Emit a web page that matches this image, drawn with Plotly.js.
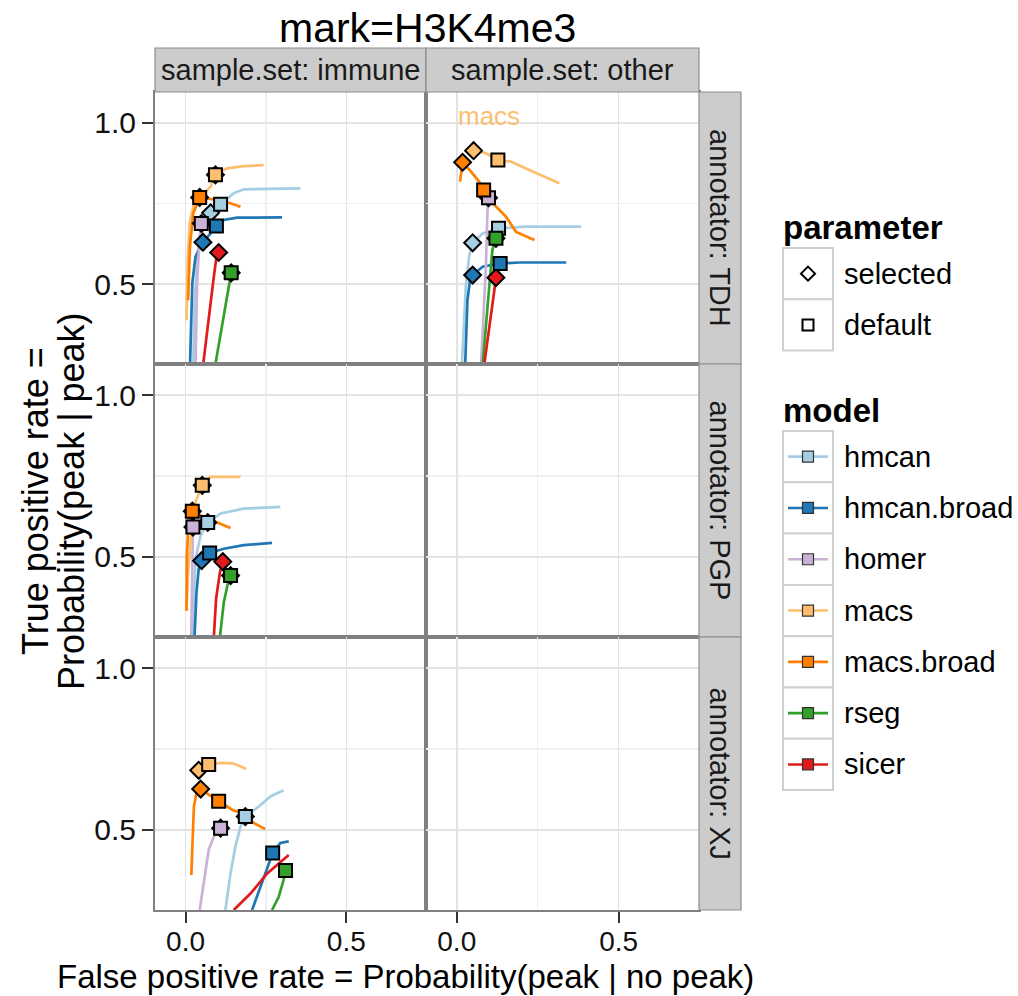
<!DOCTYPE html>
<html><head><meta charset="utf-8">
<script src="https://cdn.plot.ly/plotly-3.0.1.min.js"></script>
<style>html,body{margin:0;padding:0;background:#fff}#chart{width:1018px;height:996px}</style>
</head><body><div id="chart"></div>
<script>
// ---------- data ----------
const models = ['hmcan','hmcan.broad','homer','macs','macs.broad','rseg','sicer'];
const modelColors = ['#A6CEE3','#1F78B4','#CAB2D6','#FDBF6F','#FF7F00','#33A02C','#E31A1C'];
const parameters = ['selected','default'];
const sampleSets = ['immune','other'];
const annotators = ['TDH','PGP','XJ'];
const xTickVals = [0, 0.5], xTickText = ['0.0','0.5'];
const yTickVals = [0.5, 1.0], yTickText = ['0.5','1.0'];
const markText = 'mark=H3K4me3';

// annotator TDH, sample.set immune  (order of models above)
const TDH_immune_fpr = [
  [0.024,0.028,0.04,0.06,0.078,0.109,0.15,0.181,0.357],
  [0.014,0.021,0.031,0.054,0.078,0.096,0.119,0.16,0.30],
  [0.031,0.036,0.044,0.049],
  [0.003,0.007,0.013,0.026,0.057,0.078,0.093,0.129,0.181,0.243],
  [0.008,0.014,0.024,0.044,0.098,0.14,0.171],
  [0.093,0.119,0.134,0.142],
  [0.055,0.072,0.088,0.095,0.103]
];
const TDH_immune_tpr = [
  [0.252,0.45,0.62,0.69,0.721,0.748,0.782,0.794,0.797],
  [0.252,0.502,0.585,0.63,0.657,0.68,0.699,0.706,0.707],
  [0.252,0.502,0.647,0.688],
  [0.388,0.585,0.689,0.751,0.782,0.802,0.839,0.859,0.866,0.869],
  [0.45,0.62,0.72,0.769,0.761,0.751,0.74],
  [0.252,0.398,0.492,0.535],
  [0.252,0.398,0.523,0.575,0.598]
];
const TDH_immune_sel_fpr = [0.078,0.054,0.049,0.093,0.044,0.142,0.103];
const TDH_immune_sel_tpr = [0.721,0.63,0.688,0.839,0.769,0.535,0.598];
const TDH_immune_def_fpr = [0.109,0.096,0.049,0.093,0.044,0.142,null];
const TDH_immune_def_tpr = [0.748,0.68,0.688,0.839,0.769,0.535,null];

// annotator TDH, sample.set other
const TDH_other_fpr = [
  [0.016,0.028,0.038,0.049,0.08,0.129,0.214,0.384],
  [0.026,0.033,0.041,0.049,0.08,0.134,0.193,0.338],
  [0.075,0.09,0.095,0.098],
  [0.052,0.09,0.127,0.167,0.234,0.317],
  [0.01,0.018,0.044,0.069,0.083,0.111,0.152,0.183,0.24],
  [0.08,0.1,0.11,0.121],
  [0.085,0.106,0.116,0.121]
];
const TDH_other_tpr = [
  [0.252,0.492,0.585,0.628,0.657,0.673,0.678,0.678],
  [0.252,0.45,0.512,0.528,0.554,0.564,0.567,0.567],
  [0.252,0.554,0.73,0.768],
  [0.914,0.906,0.885,0.88,0.849,0.813],
  [0.818,0.878,0.849,0.818,0.792,0.751,0.709,0.662,0.637],
  [0.252,0.502,0.606,0.642],
  [0.252,0.398,0.481,0.52]
];
const TDH_other_sel_fpr = [0.049,0.049,0.098,0.052,0.018,0.121,0.121];
const TDH_other_sel_tpr = [0.628,0.528,0.768,0.914,0.878,0.642,0.52];
const TDH_other_def_fpr = [0.129,0.134,0.098,0.127,0.083,0.121,null];
const TDH_other_def_tpr = [0.673,0.564,0.768,0.885,0.792,0.642,null];
const TDH_other_label = {text:'macs', fpr:0.10, tpr:1.022, model:'macs'};

// annotator PGP, sample.set immune
const PGP_immune_fpr = [
  [0.021,0.031,0.047,0.069,0.109,0.181,0.295],
  [0.028,0.034,0.041,0.05,0.075,0.119,0.181,0.269],
  [0.018,0.021,0.023],
  [0.003,0.008,0.02,0.031,0.052,0.078,0.171],
  [0.003,0.004,0.01,0.021,0.057,0.14],
  [0.107,0.119,0.131,0.14],
  [0.088,0.095,0.107,0.116]
];
const PGP_immune_tpr = [
  [0.252,0.494,0.566,0.606,0.634,0.649,0.654],
  [0.252,0.39,0.463,0.488,0.512,0.525,0.536,0.543],
  [0.252,0.494,0.592],
  [0.333,0.45,0.6,0.67,0.721,0.747,0.747],
  [0.333,0.5,0.62,0.641,0.623,0.589],
  [0.252,0.359,0.415,0.442],
  [0.252,0.37,0.452,0.485]
];
const PGP_immune_sel_fpr = [0.069,0.05,0.023,0.052,0.021,0.14,0.116];
const PGP_immune_sel_tpr = [0.606,0.488,0.592,0.721,0.641,0.442,0.485];
const PGP_immune_def_fpr = [0.069,0.075,0.023,0.052,0.021,0.14,null];
const PGP_immune_def_tpr = [0.606,0.512,0.592,0.721,0.641,0.442,null];

// annotator XJ, sample.set immune
const XJ_immune_fpr = [
  [0.124,0.14,0.155,0.171,0.186,0.228,0.264,0.305],
  [0.207,0.233,0.254,0.271,0.295,0.321],
  [0.044,0.057,0.072,0.088,0.109],
  [0.035,0.041,0.072,0.109,0.15,0.189],
  [0.018,0.021,0.026,0.034,0.047,0.072,0.103,0.145,0.186,0.212,0.248],
  [0.269,0.29,0.305,0.311],
  [0.15,0.202,0.254,0.321]
];
const XJ_immune_tpr = [
  [0.252,0.366,0.448,0.51,0.541,0.572,0.603,0.622],
  [0.252,0.324,0.386,0.428,0.459,0.464],
  [0.252,0.345,0.438,0.479,0.505],
  [0.66,0.684,0.702,0.707,0.705,0.688],
  [0.36,0.469,0.572,0.614,0.626,0.609,0.588,0.562,0.547,0.521,0.502],
  [0.252,0.293,0.345,0.374],
  [0.252,0.303,0.365,0.422]
];
const XJ_immune_sel_fpr = [0.186,null,0.109,0.041,0.047,null,null];
const XJ_immune_sel_tpr = [0.541,null,0.505,0.684,0.626,null,null];
const XJ_immune_def_fpr = [0.186,0.271,0.109,0.072,0.103,0.311,null];
const XJ_immune_def_tpr = [0.541,0.428,0.505,0.702,0.588,0.374,null];

// ---------- layout helpers ----------
const W = 1018, H = 996;
const PX = p => p / W, PY = p => 1 - p / H;
const FONT = 'Liberation Sans, Arial, Helvetica, sans-serif';
const colEdges = [[155,426],[426,699]];
const rowEdges = [[92,364],[364,637],[637,910]];
const xRange = [-0.095, 0.748], yRange = [0.252, 1.096];

const panelData = {
  'TDH|immune': {fpr:TDH_immune_fpr, tpr:TDH_immune_tpr, sf:TDH_immune_sel_fpr, st:TDH_immune_sel_tpr, df:TDH_immune_def_fpr, dt:TDH_immune_def_tpr},
  'TDH|other':  {fpr:TDH_other_fpr, tpr:TDH_other_tpr, sf:TDH_other_sel_fpr, st:TDH_other_sel_tpr, df:TDH_other_def_fpr, dt:TDH_other_def_tpr, label:TDH_other_label},
  'PGP|immune': {fpr:PGP_immune_fpr, tpr:PGP_immune_tpr, sf:PGP_immune_sel_fpr, st:PGP_immune_sel_tpr, df:PGP_immune_def_fpr, dt:PGP_immune_def_tpr},
  'XJ|immune':  {fpr:XJ_immune_fpr, tpr:XJ_immune_tpr, sf:XJ_immune_sel_fpr, st:XJ_immune_sel_tpr, df:XJ_immune_def_fpr, dt:XJ_immune_def_tpr}
};

const traces = [];
const layout = {
  width: W, height: H, margin: {l:0, r:0, t:0, b:0},
  paper_bgcolor: '#fff', plot_bgcolor: '#fff', showlegend: false,
  font: {family: FONT, color: '#111'},
  shapes: [], annotations: []
};

annotators.forEach((ann, r) => {
  sampleSets.forEach((set, c) => {
    const i = r * 2 + c + 1, s = i === 1 ? '' : String(i);
    const xa = 'x' + s, ya = 'y' + s;
    const common = {
      ticklen: 11, tickwidth: 2, tickcolor: '#333',
      showgrid: true, gridcolor: '#E3E3E3', gridwidth: 1.5,
      minor: {tickmode: 'array', tickvals: [0.25, 0.75], showgrid: true, gridcolor: '#EFEFEF', gridwidth: 1.2, ticks: ''},
      zeroline: false, showline: true, mirror: true, linecolor: '#808080', linewidth: 2, fixedrange: true
    };
    layout['xaxis' + s] = Object.assign({
      domain: [PX(colEdges[c][0]), PX(colEdges[c][1])], anchor: ya, range: xRange,
      tickmode: 'array', tickvals: xTickVals, ticktext: xTickText,
      tickfont: {size: 28, color: '#111', family: FONT},
      ticks: r === 2 ? 'outside' : '', showticklabels: r === 2, ticklabelstandoff: -6
    }, common);
    layout['yaxis' + s] = Object.assign({
      domain: [PY(rowEdges[r][1]), PY(rowEdges[r][0])], anchor: xa, range: yRange,
      tickmode: 'array', tickvals: yTickVals, ticktext: yTickText,
      tickfont: {size: 30, color: '#111', family: FONT},
      ticks: c === 0 ? 'outside' : '', showticklabels: c === 0
    }, common);

    const d = panelData[ann + '|' + set];
    if (!d) {
      // empty facet: still draw the panel
      traces.push({type: 'scatter', mode: 'markers', x: [], y: [], xaxis: xa, yaxis: ya, hoverinfo: 'skip', showlegend: false});
      return;
    }
    models.forEach((m, k) => {
      traces.push({type: 'scatter', mode: 'lines', x: d.fpr[k], y: d.tpr[k], xaxis: xa, yaxis: ya,
        name: m, line: {color: modelColors[k], width: 2.7}, hoverinfo: 'skip', showlegend: false});
    });
    const pts = (fx, fy) => {
      const o = {x: [], y: [], c: []};
      models.forEach((m, k) => { if (fx[k] !== null) { o.x.push(fx[k]); o.y.push(fy[k]); o.c.push(modelColors[k]); } });
      return o;
    };
    const sp = pts(d.sf, d.st), dp = pts(d.df, d.dt);
    traces.push({type: 'scatter', mode: 'markers', x: sp.x, y: sp.y, xaxis: xa, yaxis: ya, name: 'selected',
      marker: {symbol: 'diamond', size: 13, color: sp.c, line: {color: '#000', width: 2}}, hoverinfo: 'skip', showlegend: false});
    traces.push({type: 'scatter', mode: 'markers', x: dp.x, y: dp.y, xaxis: xa, yaxis: ya, name: 'default',
      marker: {symbol: 'square', size: 13, color: dp.c, line: {color: '#000', width: 2}}, hoverinfo: 'skip', showlegend: false});
    if (d.label) {
      layout.annotations.push({xref: xa, yref: ya, x: d.label.fpr, y: d.label.tpr, text: d.label.text, showarrow: false,
        font: {size: 26, color: modelColors[models.indexOf(d.label.model)], family: FONT}, xanchor: 'center', yanchor: 'middle'});
    }
  });
});

// strips
const stripFill = '#CCCCCC', stripLine = '#8C8C8C';
sampleSets.forEach((set, c) => {
  layout.shapes.push({type: 'rect', xref: 'paper', yref: 'paper', x0: PX(colEdges[c][0]), x1: PX(colEdges[c][1]),
    y0: PY(92), y1: PY(48), fillcolor: stripFill, line: {color: stripLine, width: 1.2}, layer: 'above'});
  layout.annotations.push({xref: 'paper', yref: 'paper', x: PX((colEdges[c][0] + colEdges[c][1]) / 2), y: PY(70),
    text: 'sample.set: ' + set, showarrow: false, xanchor: 'center', yanchor: 'middle', font: {size: 29, color: '#1a1a1a', family: FONT}});
});
annotators.forEach((ann, r) => {
  layout.shapes.push({type: 'rect', xref: 'paper', yref: 'paper', x0: PX(699), x1: PX(741),
    y0: PY(rowEdges[r][1]), y1: PY(rowEdges[r][0]), fillcolor: stripFill, line: {color: stripLine, width: 1.2}, layer: 'above'});
  layout.annotations.push({xref: 'paper', yref: 'paper', x: PX(720), y: PY((rowEdges[r][0] + rowEdges[r][1]) / 2),
    text: 'annotator: ' + ann, textangle: 90, showarrow: false, xanchor: 'center', yanchor: 'middle', font: {size: 29, color: '#1a1a1a', family: FONT}});
});

// titles
layout.annotations.push({xref: 'paper', yref: 'paper', x: PX(427), y: PY(28), text: markText, showarrow: false,
  xanchor: 'center', yanchor: 'middle', font: {size: 41, color: '#000', family: FONT}});
layout.annotations.push({xref: 'paper', yref: 'paper', x: PX(405), y: PY(996), text: 'False positive rate = Probability(peak | no peak)',
  showarrow: false, xanchor: 'center', yanchor: 'bottom', borderpad: 0, font: {size: 33, color: '#000', family: FONT}});
layout.annotations.push({xref: 'paper', yref: 'paper', x: PX(35), y: PY(501), text: 'True positive rate =', textangle: -90,
  showarrow: false, xanchor: 'center', yanchor: 'middle', font: {size: 36, color: '#000', family: FONT}});
layout.annotations.push({xref: 'paper', yref: 'paper', x: PX(71), y: PY(501), text: 'Probability(peak | peak)', textangle: -90,
  showarrow: false, xanchor: 'center', yanchor: 'middle', font: {size: 36, color: '#000', family: FONT}});

// legend (drawn as shapes + text)
const LX0 = 783, LX1 = 833, KEYH = 51.3, LTX = 842;
const boxStyle = {color: '#CFCFCF', width: 2};
const legendTitle = (t, py) => layout.annotations.push({xref: 'paper', yref: 'paper', x: PX(LX0 - 2), y: PY(py), text: '<b>' + t + '</b>',
  showarrow: false, xanchor: 'left', yanchor: 'middle', font: {size: 33, color: '#000', family: FONT}});
const legendLabel = (t, py) => layout.annotations.push({xref: 'paper', yref: 'paper', x: PX(LTX), y: PY(py), text: t,
  showarrow: false, xanchor: 'left', yanchor: 'middle', font: {size: 29, color: '#000', family: FONT}});

legendTitle('parameter', 228);
parameters.forEach((p, k) => {
  const top = 248 + k * KEYH, cy = top + KEYH / 2, cx = (LX0 + LX1) / 2;
  layout.shapes.push({type: 'rect', xref: 'paper', yref: 'paper', x0: PX(LX0), x1: PX(LX1), y0: PY(top + KEYH), y1: PY(top),
    fillcolor: '#fff', line: boxStyle, layer: 'above'});
  if (p === 'selected') {
    const h = 7;
    layout.shapes.push({type: 'path', xref: 'paper', yref: 'paper',
      path: `M ${PX(cx)} ${PY(cy - h)} L ${PX(cx + h)} ${PY(cy)} L ${PX(cx)} ${PY(cy + h)} L ${PX(cx - h)} ${PY(cy)} Z`,
      fillcolor: '#fff', line: {color: '#000', width: 2}, layer: 'above'});
  } else {
    const h = 5.5;
    layout.shapes.push({type: 'rect', xref: 'paper', yref: 'paper', x0: PX(cx - h), x1: PX(cx + h), y0: PY(cy + h), y1: PY(cy - h),
      fillcolor: '#fff', line: {color: '#000', width: 2}, layer: 'above'});
  }
  legendLabel(p, cy);
});

legendTitle('model', 410);
models.forEach((m, k) => {
  const top = 431 + k * KEYH, cy = top + KEYH / 2, cx = (LX0 + LX1) / 2;
  layout.shapes.push({type: 'rect', xref: 'paper', yref: 'paper', x0: PX(LX0), x1: PX(LX1), y0: PY(top + KEYH), y1: PY(top),
    fillcolor: '#fff', line: boxStyle, layer: 'above'});
  layout.shapes.push({type: 'line', xref: 'paper', yref: 'paper', x0: PX(LX0 + 5), x1: PX(LX1 - 5), y0: PY(cy), y1: PY(cy),
    line: {color: modelColors[k], width: 2.6}, layer: 'above'});
  const h = 5.5;
  layout.shapes.push({type: 'rect', xref: 'paper', yref: 'paper', x0: PX(cx - h), x1: PX(cx + h), y0: PY(cy + h), y1: PY(cy - h),
    fillcolor: modelColors[k], line: {color: '#333', width: 1.2}, layer: 'above'});
  legendLabel(m, cy);
});

Plotly.newPlot('chart', traces, layout, {staticPlot: true, displayModeBar: false});
</script></body></html>
